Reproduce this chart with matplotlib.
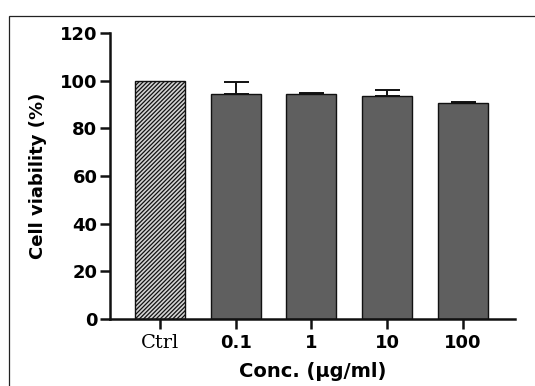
import numpy as np
import matplotlib.pyplot as plt
from matplotlib.patches import Rectangle

groups = ['Ctrl', '0.1', '1', '10', '100']
viability = [100.0, 94.5, 94.3, 93.4, 90.5]
sd = [0.0, 5.0, 0.4, 2.8, 0.7]

plt.rcParams['hatch.linewidth'] = 0.9
plt.rcParams['hatch.color'] = '#5a5a5a'

fig = plt.figure(figsize=(5.35, 3.86), dpi=100)
ax = fig.add_axes([0.2056, 0.1736, 0.757, 0.7409])

x = np.arange(len(groups))

bars = ax.bar(x, viability, width=0.66, color='#5f5f5f', edgecolor='#111111',
              linewidth=1.0, zorder=2)
# control bar: hatched light grey
bars[0].set_facecolor('#d4d4d4')
bars[0].set_hatch('////////')

ax.errorbar(x[1:], viability[1:], yerr=[np.zeros(len(sd) - 1), sd[1:]],
            fmt='none', ecolor='#111111', elinewidth=1.4, capsize=9,
            capthick=1.4, zorder=3)

ax.set_xlim(-0.66, 4.69)
ax.set_ylim(0, 120)
ax.set_yticks([0, 20, 40, 60, 80, 100, 120])

for s in ['top', 'right']:
    ax.spines[s].set_visible(False)
for s in ['left', 'bottom']:
    ax.spines[s].set_linewidth(1.8)
    ax.spines[s].set_color('#111111')

ax.tick_params(axis='both', width=1.8, length=7, color='#111111')
ax.tick_params(axis='y', pad=2)
ax.tick_params(axis='x', pad=4)

for lab in ax.get_yticklabels():
    lab.set_fontfamily('DejaVu Sans')
    lab.set_fontweight('bold')
    lab.set_fontsize(13)

ax.set_xticks(x)
ax.set_xticklabels(groups)
for i, lab in enumerate(ax.get_xticklabels()):
    if i == 0:
        lab.set_fontfamily('DejaVu Serif')
        lab.set_fontweight('normal')
        lab.set_fontsize(14)
    else:
        lab.set_fontfamily('DejaVu Sans')
        lab.set_fontweight('bold')
        lab.set_fontsize(13)

ax.set_ylabel('Cell viability (%)', fontfamily='DejaVu Sans',
              fontweight='bold', fontsize=13, labelpad=9)
ax.set_xlabel('Conc. (µg/ml)', fontfamily='DejaVu Sans',
              fontweight='bold', fontsize=14, labelpad=7)

# thin frame around the figure panel
fig.patches.append(Rectangle((9 / 535, -0.1), 1.2, 1.1 - 16 / 386,
                             transform=fig.transFigure, fill=False,
                             edgecolor='#222222', linewidth=0.9, clip_on=False))

fig.savefig('out.png', dpi=100)
